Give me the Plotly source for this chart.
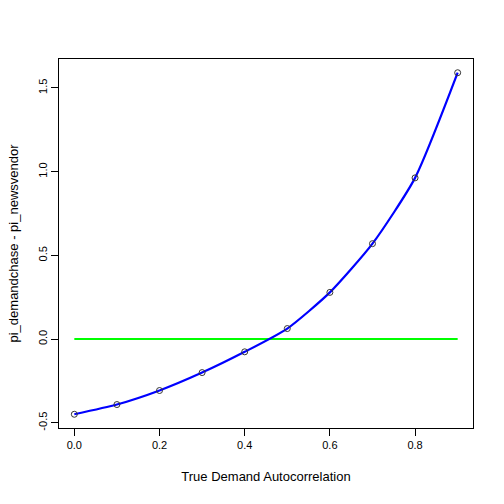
import plotly.graph_objects as go

rho = [0.0, 0.1, 0.2, 0.3, 0.4, 0.5, 0.6, 0.7, 0.8, 0.9]
diff = [-0.449, -0.391, -0.307, -0.200, -0.076, 0.063, 0.279, 0.570, 0.963, 1.591]
zero_x = [0.0, 0.9]
zero_y = [0.0, 0.0]
x_ticks = [0.0, 0.2, 0.4, 0.6, 0.8]
x_ticktext = ["0.0", "0.2", "0.4", "0.6", "0.8"]
y_ticks = [-0.5, 0.0, 0.5, 1.0, 1.5]
y_ticktext = ["-0.5", "0.0", "0.5", "1.0", "1.5"]

fig = go.Figure()
fig.add_trace(go.Scatter(x=zero_x, y=zero_y, mode="lines",
                         line=dict(color="#00ff00", width=2), showlegend=False))
fig.add_trace(go.Scatter(x=rho, y=diff, mode="lines",
                         line=dict(color="#0000ff", width=2.2, shape="spline", smoothing=0.6),
                         showlegend=False))
fig.add_trace(go.Scatter(x=rho, y=diff, mode="markers",
                         marker=dict(symbol="circle-open", size=6, color="#333333",
                                     line=dict(width=1, color="#333333")),
                         showlegend=False))

font = dict(family="Liberation Sans, Arial, sans-serif", size=10.5, color="black")
fig.update_layout(
    width=504, height=504,
    margin=dict(l=59, r=31, t=59, b=76),
    paper_bgcolor="white", plot_bgcolor="white",
    font=font,
    xaxis=dict(range=[-0.036, 0.936], tickvals=x_ticks, ticktext=x_ticktext,
               tickfont=dict(size=11),
               showgrid=False, zeroline=False, showline=True, mirror=True,
               linecolor="black", linewidth=1, ticks="outside", ticklen=7,
               tickcolor="black", tickwidth=1,
               title=dict(text="True Demand Autocorrelation", standoff=21)),
    yaxis=dict(range=[-0.531, 1.673], tickvals=y_ticks, ticktext=y_ticktext,
               tickangle=-90, tickfont=dict(size=11),
               showgrid=False, zeroline=False, showline=True, mirror=True,
               linecolor="black", linewidth=1, ticks="outside", ticklen=7,
               tickcolor="black", tickwidth=1,
               title=dict(text="pi_demandchase - pi_newsvendor", standoff=15)),
)
fig.write_html("out.html")
